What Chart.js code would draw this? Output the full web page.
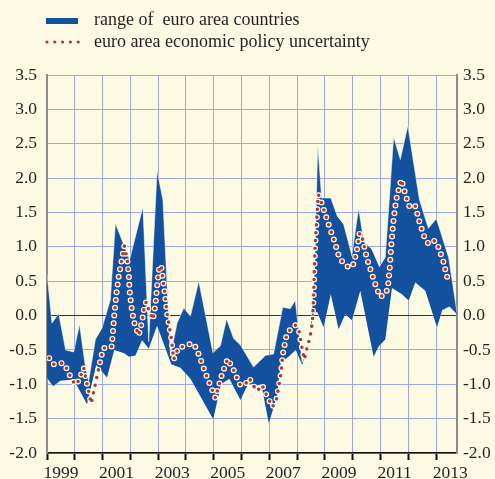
<!DOCTYPE html>
<html>
<head>
<meta charset="utf-8">
<script src="https://cdn.jsdelivr.net/npm/chart.js@4.4.0/dist/chart.umd.min.js"></script>
<style>
    html, body { margin: 0; padding: 0; background: #fdfae4; }
    #chart { display: block; }
</style>
</head>
<body>
<canvas id="chart" width="495" height="479"></canvas>

<script>
    // range of euro area countries: upper and lower edge of the band
    const upperYears = [1999.00, 1999.18, 1999.42, 1999.67, 1999.96, 2000.17, 2000.38, 2000.50, 2000.74, 2000.98,
        2001.28, 2001.46, 2001.88, 2001.97, 2002.45, 2002.66, 2002.96, 2003.17, 2003.44, 2003.68,
        2003.92, 2004.16, 2004.46, 2004.97, 2005.24, 2005.46, 2005.71, 2005.96, 2006.43, 2006.86,
        2007.15, 2007.48, 2007.75, 2007.93, 2008.18, 2008.47, 2008.63, 2008.74, 2008.88, 2009.21,
        2009.44, 2009.67, 2009.97, 2010.21, 2010.40, 2010.68, 2010.96, 2011.17, 2011.47, 2011.71,
        2011.98, 2012.40, 2012.72, 2013.01, 2013.45, 2013.75];
    const upperValues = [0.60, -0.11, 0.03, -0.50, -0.53, -0.13, -0.74, -0.95, -0.35, -0.18,
        0.23, 1.34, 0.91, 0.81, 1.58, -0.38, 2.11, 1.68, -0.59, -0.11,
        0.11, -0.01, 0.50, -0.54, -0.44, -0.05, -0.33, -0.43, -0.75, -0.58,
        -0.56, 0.12, 0.10, 0.22, -0.68, -0.28, 0.72, 2.49, 1.71, 1.71,
        1.45, 1.33, 0.87, 1.56, 1.07, 0.97, 0.71, 0.85, 2.60, 2.27,
        2.76, 1.68, 1.27, 1.41, 0.84, 0.04];

    const lowerYears = [1999.00, 1999.22, 1999.48, 1999.96, 2000.44, 2000.77, 2001.16, 2001.34, 2001.42, 2001.78,
        2001.95, 2002.18, 2002.42, 2002.66, 2002.96, 2003.47, 2003.80, 2004.16, 2004.48, 2004.98,
        2005.26, 2005.56, 2005.96, 2006.25, 2006.50, 2006.71, 2006.98, 2007.28, 2007.41, 2007.69,
        2007.95, 2008.18, 2008.43, 2008.60, 2008.72, 2008.95, 2009.21, 2009.49, 2009.73, 2009.97,
        2010.27, 2010.75, 2010.93, 2011.17, 2011.41, 2011.77, 2012.01, 2012.25, 2012.61, 2013.03,
        2013.22, 2013.48, 2013.75];
    const lowerValues = [-0.91, -1.03, -0.95, -0.93, -1.29, -0.72, -0.90, -0.62, -0.50, -0.55,
        -0.60, -0.58, -0.36, -0.48, -0.15, -0.71, -0.76, -0.92, -1.15, -1.51,
        -1.00, -0.92, -1.23, -0.98, -1.02, -1.00, -1.57, -1.16, -0.68, -0.60,
        -0.50, -0.72, -0.34, 0.04, 0.05, -0.17, 0.31, -0.20, 0.02, -0.07,
        0.36, -0.60, -0.45, -0.35, 0.40, 0.31, 0.22, 0.48, 0.36, -0.17,
        0.08, 0.13, 0.02];

    // euro area economic policy uncertainty
    const epuYears = [1999.08, 1999.24, 1999.48, 1999.62, 1999.87, 2000.02, 2000.14, 2000.32, 2000.38, 2000.59,
        2000.96, 2001.04, 2001.20, 2001.33, 2001.42, 2001.50, 2001.58, 2001.68, 2001.78, 2001.88,
        2001.94, 2001.97, 2002.03, 2002.12, 2002.30, 2002.42, 2002.50, 2002.57, 2002.66, 2002.81,
        2002.90, 2002.98, 2003.05, 2003.11, 2003.22, 2003.32, 2003.46, 2003.56, 2003.62, 2003.74,
        2003.98, 2004.22, 2004.37, 2004.76, 2005.06, 2005.30, 2005.50, 2005.71, 2005.93, 2006.10,
        2006.28, 2006.41, 2006.56, 2006.74, 2006.83, 2007.11, 2007.25, 2007.40, 2007.49, 2007.60,
        2007.72, 2007.93, 2008.05, 2008.20, 2008.26, 2008.32, 2008.47, 2008.55, 2008.59, 2008.64,
        2008.69, 2008.76, 2008.81, 2008.98, 2009.16, 2009.35, 2009.51, 2009.67, 2009.89, 2010.03,
        2010.16, 2010.25, 2010.32, 2010.51, 2010.77, 2010.98, 2011.17, 2011.26, 2011.32, 2011.38,
        2011.45, 2011.56, 2011.69, 2011.75, 2011.83, 2011.99, 2012.07, 2012.25, 2012.40, 2012.58,
        2012.73, 2012.95, 2013.06, 2013.25, 2013.39, 2013.48];
    const epuValues = [-0.62, -0.71, -0.69, -0.70, -0.91, -1.01, -0.95, -0.76, -0.88, -1.28,
        -0.58, -0.47, -0.48, -0.45, 0.00, 0.33, 0.57, 0.79, 1.01, 0.83,
        0.61, 0.37, 0.15, -0.08, -0.29, -0.09, 0.13, 0.20, 0.08, -0.06,
        0.16, 0.51, 0.73, 0.71, 0.38, 0.03, -0.30, -0.64, -0.57, -0.46,
        -0.45, -0.40, -0.47, -0.90, -1.20, -0.85, -0.63, -0.79, -1.00, -1.02,
        -0.91, -1.01, -1.10, -1.01, -1.10, -1.33, -1.23, -0.89, -0.55, -0.32,
        -0.22, -0.14, -0.19, -0.53, -0.64, -0.53, -0.30, -0.08, 0.26, 0.96,
        1.31, 1.76, 1.73, 1.51, 1.29, 1.07, 0.85, 0.76, 0.69, 0.75,
        0.98, 1.20, 1.17, 0.83, 0.50, 0.27, 0.31, 0.40, 0.64, 0.99,
        1.33, 1.68, 1.90, 1.98, 1.86, 1.63, 1.56, 1.59, 1.36, 1.14,
        1.04, 1.09, 1.02, 0.80, 0.57, 0.46];

    const tickYears = [1999, 2000, 2001, 2002, 2003, 2004, 2005, 2006, 2007, 2008, 2009, 2010, 2011, 2012, 2013];
    const valueTicks = [-2.0, -1.5, -1.0, -0.5, 0.0, 0.5, 1.0, 1.5, 2.0, 2.5, 3.0, 3.5];

    const BAND = '#13509e';
    const DOT = '#b3372b';
    const GRID = '#9ba6e3';
    const TEXT = '#231f20';
    const AXIS_GREY = '#8c8c8c';
    const serif = '"Liberation Serif", "Times New Roman", serif';

    const toPoints = (xs, ys) => xs.map((x, i) => ({x: x, y: ys[i]}));

    // legend drawn by hand so the dotted sample looks like the line
    const legendPlugin = {
        id: 'customLegend',
        afterDraw(chart) {
            const ctx = chart.ctx;
            ctx.save();
            ctx.fillStyle = BAND;
            ctx.fillRect(46, 18, 32, 6);
            ctx.fillStyle = DOT;
            for (let i = 0; i < 5; i++) {
                ctx.beginPath();
                ctx.arc(47 + i * 7.8, 42, 1.6, 0, Math.PI * 2);
                ctx.fill();
            }
            ctx.fillStyle = TEXT;
            ctx.font = '18px ' + serif;
            ctx.textBaseline = 'middle';
            ctx.fillText('range of  euro area countries', 94, 20);
            ctx.fillText('euro area economic policy uncertainty', 94, 42);
            ctx.restore();
        }
    };

    const valueTickOptions = (padding) => ({
        padding: padding,
        color: TEXT,
        font: {family: serif, size: 17.5},
        callback: v => Number(v).toFixed(1)
    });

    new Chart(document.getElementById('chart').getContext('2d'), {
        type: 'line',
        data: {
            datasets: [
                {
                    data: toPoints(epuYears, epuValues),
                    borderColor: DOT,
                    borderWidth: 3.6,
                    borderDash: [0, 7.8],
                    borderCapStyle: 'round',
                    pointRadius: 0,
                    fill: false
                },
                {
                    data: toPoints(epuYears, epuValues),
                    borderColor: '#fffdf2',
                    borderWidth: 6,
                    borderDash: [0, 7.8],
                    borderCapStyle: 'round',
                    pointRadius: 0,
                    fill: false
                },
                {
                    data: toPoints(upperYears, upperValues),
                    borderColor: 'rgba(255,255,255,0.5)',
                    borderWidth: 1,
                    backgroundColor: BAND,
                    pointRadius: 0,
                    fill: '+1'
                },
                {
                    data: toPoints(lowerYears, lowerValues),
                    borderColor: 'rgba(255,255,255,0.5)',
                    borderWidth: 1,
                    pointRadius: 0,
                    fill: false
                }
            ]
        },
        options: {
            responsive: false,
            animation: false,
            devicePixelRatio: 1,
            tension: 0,
            layout: {padding: {top: 75, left: 0, right: 0, bottom: 0}},
            plugins: {
                legend: {display: false},
                tooltip: {enabled: false}
            },
            scales: {
                x: {
                    type: 'linear',
                    position: 'bottom',
                    min: 1999,
                    max: 2013.75,
                    afterBuildTicks: s => { s.ticks = tickYears.map(v => ({value: v})); },
                    afterFit: s => { s.height = 26; },
                    grid: {color: GRID, lineWidth: 1, tickLength: 7, tickColor: '#111', tickWidth: 2},
                    border: {color: '#111', width: 1.5},
                    ticks: {
                        autoSkip: false,
                        maxRotation: 0,
                        padding: 3,
                        labelOffset: 14,
                        color: TEXT,
                        font: {family: serif, size: 17.5},
                        callback: v => (v % 2 === 1 ? String(v) : '')
                    }
                },
                y: {
                    position: 'left',
                    min: -2,
                    max: 3.5,
                    afterBuildTicks: s => { s.ticks = valueTicks.map(v => ({value: v})); },
                    afterFit: s => { s.width = 47; },
                    grid: {
                        color: c => (c.tick && c.tick.value === 0 ? '#333' : GRID),
                        drawTicks: false
                    },
                    border: {color: AXIS_GREY, width: 2},
                    ticks: valueTickOptions(10)
                },
                y2: {
                    position: 'right',
                    min: -2,
                    max: 3.5,
                    afterBuildTicks: s => { s.ticks = valueTicks.map(v => ({value: v})); },
                    afterFit: s => { s.width = 38; },
                    grid: {display: false, drawTicks: false},
                    border: {color: AXIS_GREY, width: 2},
                    ticks: valueTickOptions(6)
                }
            }
        },
        plugins: [legendPlugin]
    });
</script>
</body>
</html>
